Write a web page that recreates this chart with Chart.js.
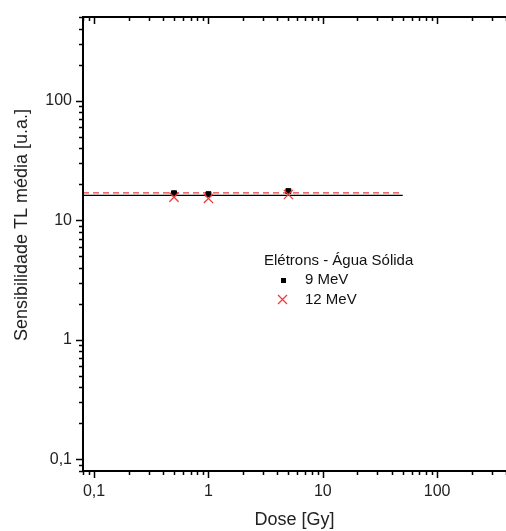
<!DOCTYPE html>
<html>
<head>
<meta charset="utf-8">
<script src="https://cdn.jsdelivr.net/npm/chart.js@4"></script>
<style>
  html, body { margin: 0; padding: 0; background: #fff; overflow: hidden; }
  #wrap { width: 506px; height: 531px; }
</style>
</head>
<body>
<div id="wrap"><canvas id="myChart"></canvas></div>
<script>
// data
const doses = [0.5, 1, 5];
const mev9 = [16.8, 16.5, 17.5];
const mev12 = [15.6, 15.2, 16.4];
const fitX = [0.08, 50];
const fitSolid = 16.1;   // black solid line
const fitDashed = 16.9;  // red dashed line
const xTicks = [0.1, 1, 10, 100];
const yTicks = [0.1, 1, 10, 100];
const yTitle = 'Sensibilidade TL média [u.a.]';
const legendTitle = 'Elétrons - Água Sólida';
const legendNames = ['9 MeV', '12 MeV'];

const fmt = v => String(v).replace('.', ',');
const RED = 'rgb(235,60,60)';
const FONT = '"Liberation Sans", Arial, sans-serif';

// tick values 1..9 per decade inside [min,max]
function minorValues(min, max) {
    const out = [];
    for (let e = -3; e <= 4; e++) {
        for (let m = 1; m <= 9; m++) {
            const v = m * Math.pow(10, e);
            if (v >= min * 0.9999 && v <= max * 1.0001) out.push({ v: v, major: m === 1 });
        }
    }
    return out;
}

const axesPlugin = {
    id: 'originAxes',
    afterDatasetsDraw(chart) {
        const { ctx, chartArea: a, scales } = chart;
        const xs = scales.x, ys = scales.y;
        ctx.save();
        ctx.strokeStyle = '#000';
        ctx.lineWidth = 2;
        ctx.beginPath();
        ctx.moveTo(a.left, a.top); ctx.lineTo(a.right, a.top);
        ctx.moveTo(a.left, a.bottom); ctx.lineTo(a.right, a.bottom);
        ctx.moveTo(a.left, a.top - 1); ctx.lineTo(a.left, a.bottom + 1);
        ctx.stroke();
        ctx.lineWidth = 1.5;
        ctx.beginPath();
        minorValues(xs.min, xs.max).forEach(t => {
            const px = Math.round(xs.getPixelForValue(t.v)) + 0.5;
            const len = t.major ? 7 : 4;
            // bottom: outward, top: inward
            ctx.moveTo(px, a.bottom); ctx.lineTo(px, a.bottom + len);
            ctx.moveTo(px, a.top); ctx.lineTo(px, a.top + len);
        });
        minorValues(ys.min, ys.max).forEach(t => {
            const py = Math.round(ys.getPixelForValue(t.v)) + 0.5;
            const len = t.major ? 7 : 4;
            ctx.moveTo(a.left, py); ctx.lineTo(a.left - len, py);
        });
        ctx.stroke();

        // y title
        ctx.save();
        ctx.translate(22, a.top + 208);
        ctx.rotate(-Math.PI / 2);
        ctx.font = '18px ' + FONT;
        ctx.fillStyle = '#222';
        ctx.textAlign = 'center';
        ctx.textBaseline = 'middle';
        ctx.fillText(yTitle, 0, 0);
        ctx.restore();

        // legend
        const lx = a.left + 181, ly = a.top + 244;
        ctx.font = '15px ' + FONT;
        ctx.fillStyle = '#111';
        ctx.textBaseline = 'middle';
        ctx.fillText(legendTitle, lx, ly);
        ctx.fillText(legendNames[0], lx + 41, ly + 19);
        ctx.fillText(legendNames[1], lx + 41, ly + 39);
        ctx.fillStyle = '#000';
        ctx.fillRect(lx + 17, ly + 17, 5, 5);
        ctx.strokeStyle = RED;
        ctx.lineWidth = 1.3;
        ctx.beginPath();
        ctx.moveTo(lx + 14, ly + 34); ctx.lineTo(lx + 23, ly + 43);
        ctx.moveTo(lx + 23, ly + 34); ctx.lineTo(lx + 14, ly + 43);
        ctx.stroke();
        ctx.restore();
    }
};

const ctx = document.querySelector('#myChart').getContext('2d');
const config = {
    type: 'scatter',
    data: {
        datasets: [
            {
                label: 'fit dashed',
                type: 'line',
                data: fitX.map(x => ({ x: x, y: fitDashed })),
                borderColor: RED,
                borderWidth: 1.3,
                borderDash: [6, 4],
                pointRadius: 0,
                order: 3
            },
            {
                label: 'fit solid',
                type: 'line',
                data: fitX.map(x => ({ x: x, y: fitSolid })),
                borderColor: '#000',
                borderWidth: 1.2,
                pointRadius: 0,
                order: 2
            },
            {
                label: legendNames[0],
                data: doses.map((d, i) => ({ x: d, y: mev9[i] })),
                pointStyle: 'rect',
                pointRadius: 3.5,
                backgroundColor: '#000',
                borderColor: '#000',
                borderWidth: 1,
                order: 1
            },
            {
                label: legendNames[1],
                data: doses.map((d, i) => ({ x: d, y: mev12[i] })),
                pointStyle: 'crossRot',
                pointRadius: 6.5,
                borderColor: RED,
                borderWidth: 1.3,
                order: 0
            }
        ]
    },
    options: {
        responsive: true,
        maintainAspectRatio: false,
        animation: false,
        layout: { autoPadding: false, padding: { top: 17, right: 0, left: 0, bottom: 0 } },
        plugins: {
            legend: { display: false },
            tooltip: { enabled: false }
        },
        scales: {
            x: {
                type: 'logarithmic',
                min: 0.08,
                max: 400,
                afterBuildTicks: s => { s.ticks = xTicks.map(v => ({ value: v })); },
                afterFit: s => { s.height = 60; s.paddingRight = 0; s.paddingLeft = 0; },
                grid: { display: false, drawTicks: false },
                border: { display: false },
                ticks: {
                    callback: v => fmt(v),
                    color: '#222',
                    padding: 11,
                    maxRotation: 0,
                    font: { family: FONT, size: 16 }
                },
                title: {
                    display: true,
                    text: 'Dose [Gy]',
                    color: '#222',
                    padding: { top: 2, bottom: 0 },
                    font: { family: FONT, size: 18 }
                }
            },
            y: {
                type: 'logarithmic',
                min: 0.08,
                max: 500,
                afterBuildTicks: s => { s.ticks = yTicks.map(v => ({ value: v })); },
                afterFit: s => { s.width = 83; s.paddingTop = 0; s.paddingBottom = 0; },
                grid: { display: false, drawTicks: false },
                border: { display: false },
                ticks: {
                    callback: v => fmt(v),
                    color: '#222',
                    padding: 11,
                    font: { family: FONT, size: 16 }
                }
            }
        }
    },
    plugins: [axesPlugin]
};
new Chart(ctx, config);
</script>
</body>
</html>
